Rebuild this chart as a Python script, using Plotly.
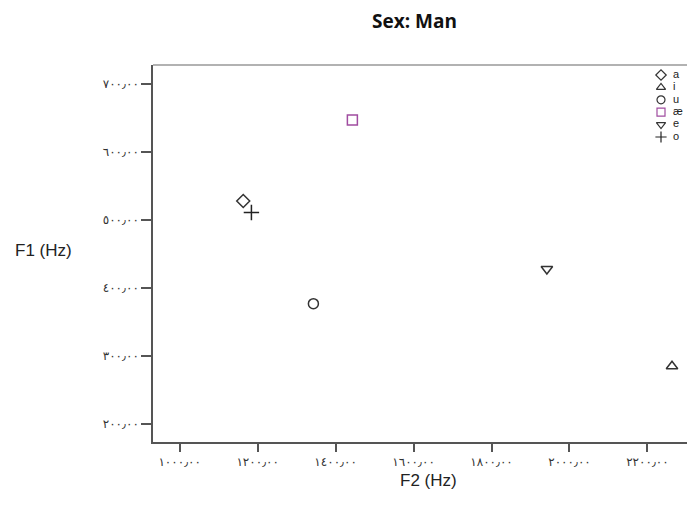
import plotly.graph_objects as go

vowels = ["a", "i", "u", "æ", "e", "o"]
f2_vals = [1163, 2263, 1343, 1443, 1942, 1184]
f1_vals = [528, 285, 377, 647, 428, 511]
symbols = ["diamond-open", "triangle-up-open", "circle-open", "square-open", "triangle-down-open", "cross-thin-open"]
colors = ["#333333", "#333333", "#333333", "#a04ca0", "#333333", "#222222"]

x_tickvals = [1000, 1200, 1400, 1600, 1800, 2000, 2200]
x_ticktext = ["١٠٠٠٫٠٠", "١٢٠٠٫٠٠", "١٤٠٠٫٠٠", "١٦٠٠٫٠٠", "١٨٠٠٫٠٠", "٢٠٠٠٫٠٠", "٢٢٠٠٫٠٠"]
y_tickvals = [200, 300, 400, 500, 600, 700]
y_ticktext = ["٢٠٠٫٠٠", "٣٠٠٫٠٠", "٤٠٠٫٠٠", "٥٠٠٫٠٠", "٦٠٠٫٠٠", "٧٠٠٫٠٠"]

OFF = 8  # page body margin
FW, FH = 695 - OFF, 516 - OFF
L, T, H = 153 - OFF, 65 - OFF, 377
W = FW - L

def px_x(p):
    return (p - OFF - L) / W

def px_y(p):
    return (T + H - (p - OFF)) / H

fig = go.Figure()
for v, x, y, s, c in zip(vowels, f2_vals, f1_vals, symbols, colors):
    fig.add_trace(go.Scatter(
        x=[x], y=[y], mode="markers", name=v, showlegend=False,
        marker=dict(symbol=s, size=10 if "cross" not in s else 11, color=c,
                    line=dict(width=1.5, color=c)),
    ))

# legend drawn on an overlay axis in the top-right corner
leg_y = [px_y(75 + 12.4 * i) for i in range(len(vowels))]
for v, s, c, ly in zip(vowels, symbols, colors, leg_y):
    fig.add_trace(go.Scatter(
        x=[px_x(661)], y=[ly], mode="markers+text", showlegend=False,
        text=["  " + v], textposition="middle right",
        textfont=dict(family="Liberation Sans, Arial", size=11, color="#222"),
        marker=dict(symbol=s, size=8, color=c, line=dict(width=1.2, color=c)),
        xaxis="x2", yaxis="y2", hoverinfo="skip", cliponaxis=False,
    ))

fig.update_layout(
    width=FW, height=FH,
    margin=dict(l=L, r=0, t=T, b=FH - T - H),
    paper_bgcolor="white", plot_bgcolor="white",
    showlegend=False,
    xaxis=dict(range=[931.5, 2322], tickvals=x_tickvals, ticktext=x_ticktext,
               showgrid=False, zeroline=False, showline=True, linecolor="#555",
               linewidth=1.5, mirror=False, ticks="outside", ticklen=8, tickwidth=1.5,
               tickcolor="#555", tickfont=dict(size=12, color="#333", family="DejaVu Sans")),
    yaxis=dict(range=[173.5, 728], tickvals=y_tickvals, ticktext=y_ticktext,
               showgrid=False, zeroline=False, showline=True, linecolor="#555",
               linewidth=1.5, ticks="outside", ticklen=10, tickwidth=1.5,
               tickcolor="#555", tickfont=dict(size=12, color="#333", family="DejaVu Sans")),
    xaxis2=dict(overlaying="x", range=[0, 1], visible=False, fixedrange=True),
    yaxis2=dict(overlaying="y", range=[0, 1], visible=False, fixedrange=True),
    shapes=[dict(type="line", xref="paper", yref="paper", x0=0, x1=1, y0=1, y1=1,
                 line=dict(color="#999", width=1.5))],
    annotations=[
        dict(text="<b>Sex: Man</b>", xref="paper", yref="paper", x=px_x(414), y=px_y(21),
             showarrow=False, xanchor="center", yanchor="middle",
             font=dict(family="Open Sans", size=19, color="#111")),
        dict(text="F1 (Hz)", xref="paper", yref="paper", x=px_x(43), y=px_y(250),
             showarrow=False, xanchor="center", yanchor="middle",
             font=dict(family="Liberation Sans, Arial", size=17, color="#222")),
        dict(text="F2 (Hz)", xref="paper", yref="paper", x=px_x(428), y=px_y(480),
             showarrow=False, xanchor="center", yanchor="middle",
             font=dict(family="Liberation Sans, Arial", size=17, color="#222")),
    ],
)

fig.write_html("out.html")
